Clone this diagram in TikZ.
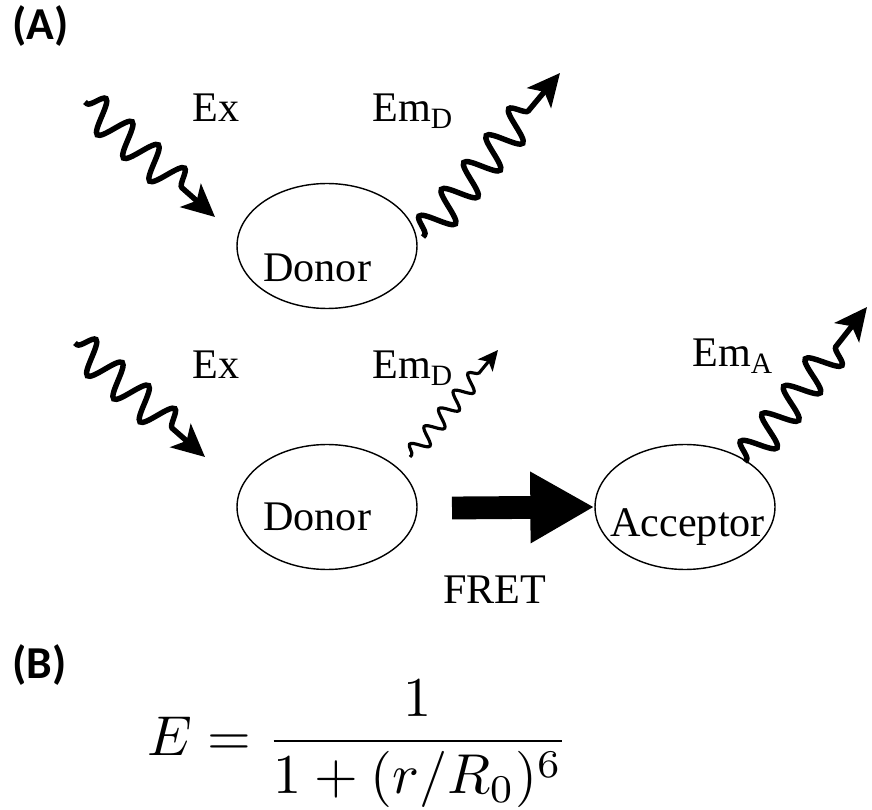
\documentclass[tikz,border=0pt]{standalone}
\usepackage[no-math]{fontspec}
\setmainfont{Liberation Serif}
\newfontfamily\panelfont{Carlito}
\usepackage{amsmath}
\usetikzlibrary{arrows.meta,positioning,shapes.geometric,decorations.pathmorphing}
\tikzset{
  mol/.style={draw, ellipse, line width=0.8pt, minimum width=3.6cm, minimum height=2.5cm, inner sep=0pt},
  lbl/.style={font=\fontsize{24}{28}\selectfont, inner sep=0pt, anchor=base west},
  panel/.style={font=\panelfont\bfseries\fontsize{26}{30}\selectfont, inner sep=0pt, anchor=base west},
  wave/.style={line width=3.1pt, -{Stealth[length=6.5mm,width=6.2mm,inset=1.6mm]}, decorate,
    decoration={snake, amplitude=3.3mm, segment length=7mm, pre length=0.5mm, post length=7mm}},
  thinwave/.style={wave, line width=1.8pt, -{Stealth[length=4mm,width=3.8mm,inset=1mm]},
    decoration={amplitude=1.7mm, segment length=4.6mm, post length=4.5mm}},
  fret/.style={line width=13pt, -{Triangle[length=12.8mm,width=13.4mm]}},
}
\begin{document}
\begin{tikzpicture}[x=0.02cm, y=-0.02cm]
  \useasboundingbox (0,0) rectangle (872,810);
  % ---- (A) donor alone, then donor + acceptor ----
  \node[panel] (pA) at (12,40) {(A)};
  \node[mol] (donA) at (327,246) {};
  \node[lbl] (donAt) at (263,282) {Donor};
  \node[lbl] (exA) at (192,122) {Ex};
  \node[lbl] (emDA) at (372,122) {Em\textsubscript{D}};
  \coordinate (exAs) at (85,102);   \coordinate (exAe) at (215,217);
  \coordinate (emAs) at (423,237);  \coordinate (emAe) at (560,73);

  \node[mol] (donB) at (327,507) {};
  \node[lbl] (donBt) at (263,530) {Donor};
  \node[mol] (acc) at (685,507) {};
  \node[lbl] (acct) at (610,537) {Acceptor};
  \node[lbl] (exB) at (192,379) {Ex};
  \node[lbl] (emDB) at (372,379) {Em\textsubscript{D}};
  \node[lbl] (emAB) at (692,367) {Em\textsubscript{A}};
  \node[lbl] (fretl) at (443,603) {FRET};
  \coordinate (exBs) at (75,343);   \coordinate (exBe) at (205,457);
  \coordinate (emBs) at (410,457);  \coordinate (emBe) at (498,350);
  \coordinate (emCs) at (745,462);  \coordinate (emCe) at (867,307);
  \coordinate (fretS) at (452,508);

  \foreach \a/\b in {exAs/exAe,emAs/emAe,exBs/exBe,emCs/emCe} \draw[wave] (\a)--(\b);
  \draw[thinwave] (emBs)--(emBe);
  \draw[fret] (fretS)--(acc.west);

  % ---- (B) efficiency ----
  \node[panel] (pB) at (12,678) {(B)};
  \node[anchor=base west, inner sep=0pt, scale=3.2] (eq) at (146,755) {$E = \dfrac{1}{1+(r/R_0)^6}$};
\end{tikzpicture}
\end{document}
